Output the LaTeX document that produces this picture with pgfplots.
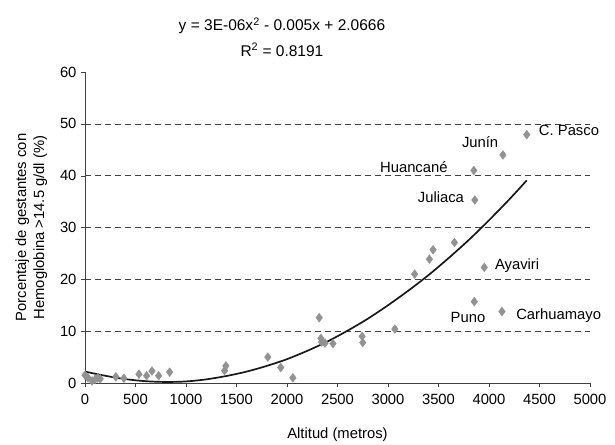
\documentclass[border=0pt]{standalone}
\usepackage{pgfplots}
\pgfplotsset{compat=1.18}
\usepackage{fontspec}
\setmainfont{Liberation Sans}

\definecolor{ptc}{HTML}{929292}

\begin{document}
\begin{tikzpicture}[font=\fontsize{14.8}{18}\selectfont]
  \begin{axis}[
    scale only axis, width=505pt, height=311pt,
    xmin=0, xmax=5000, ymin=0, ymax=60,
    xtick={0,500,...,5000}, ytick={0,10,...,60},
    axis x line*=bottom, axis y line*=left,
    tick align=outside, major tick length=4pt,
    axis line style={black!75}, tick style={black!75},
    /pgf/number format/assume math mode=true,
    /pgf/number format/set thousands separator={},
    tick label style={font=\fontsize{14.8}{18}\selectfont},
    xticklabel style={yshift=-4pt},
    yticklabel style={xshift=-1pt},
    label style={font=\fontsize{14.8}{18}\selectfont},
    xlabel={Altitud (metros)},
    ylabel={Porcentaje de gestantes con\\Hemoglobina >14.5 g/dl (\%)},
    ylabel style={align=center, yshift=6pt},
    xlabel style={yshift=-16pt},
    clip=false,
  ]
    \pgfplotsinvokeforeach{10,20,30,40,50}{
      \draw[black!75, dash pattern=on 6pt off 4pt] (axis cs:0,#1) -- (axis cs:5000,#1);
    }
    \addplot[only marks, mark=diamond*, mark size=4.4pt, ptc, mark options={draw=ptc, fill=ptc}]
      coordinates {(0,1.5) (30,1.0) (70,0.4) (100,0.7) (125,1.0) (150,0.8)
                   (305,1.2) (385,0.9) (534,1.7) (610,1.4) (663,2.3) (729,1.4) (838,2.1)
                   (1382,2.4) (1395,3.3) (1810,5.0) (1938,3.0) (2058,1.0)
                   (2319,12.6) (2336,8.6) (2343,7.9) (2376,7.7) (2455,7.6)
                   (2744,9.0) (2750,7.8) (3068,10.4)
                   (3264,21.0) (3410,23.9) (3446,25.7) (3658,27.1)
                   (3953,22.3) (3854,15.7) (4128,13.8) (3860,35.3) (3850,41.0)
                   (4138,44.0) (4374,47.9)};
    \addplot[black!90, line width=1.7pt, smooth]
      coordinates {(0,2.2) (200,1.4) (400,0.75) (600,0.35) (800,0.2) (1000,0.3)
                   (1200,0.7) (1400,1.35) (1600,2.2) (1800,3.3) (2000,4.6) (2200,6.2)
                   (2400,8.0) (2600,10.1) (2800,12.4) (3000,15.0) (3200,17.8)
                   (3400,20.8) (3600,24.1) (3800,27.6) (4000,31.4) (4200,35.4) (4374,39.1)};
    \node[anchor=west] at (axis cs:4460,48.8) {C. Pasco};
    \node at (axis cs:3912,46.4) {Junín};
    \node at (axis cs:3256,41.7) {Huancané};
    \node at (axis cs:3524,35.8) {Juliaca};
    \node[anchor=west] at (axis cs:4025,22.6) {Ayaviri};
    \node at (axis cs:3792,12.6) {Puno};
    \node[anchor=west] at (axis cs:4235,12.9) {Carhuamayo};
    \node[font=\fontsize{15.5}{18}\selectfont] at (axis cs:1950,68.9) {y = 3E-06x\textsuperscript{2} - 0.005x + 2.0666};
    \node[font=\fontsize{15.5}{18}\selectfont] at (axis cs:1950,64.3) {R\textsuperscript{2} = 0.8191};
    \coordinate (sw) at (rel axis cs:0,0);
    \coordinate (ne) at (rel axis cs:1,1);
  \end{axis}
  \pgfresetboundingbox
  \path[use as bounding box] ([xshift=-85pt,yshift=-61pt]sw) rectangle ([xshift=25pt,yshift=72pt]ne);
\end{tikzpicture}
\end{document}
